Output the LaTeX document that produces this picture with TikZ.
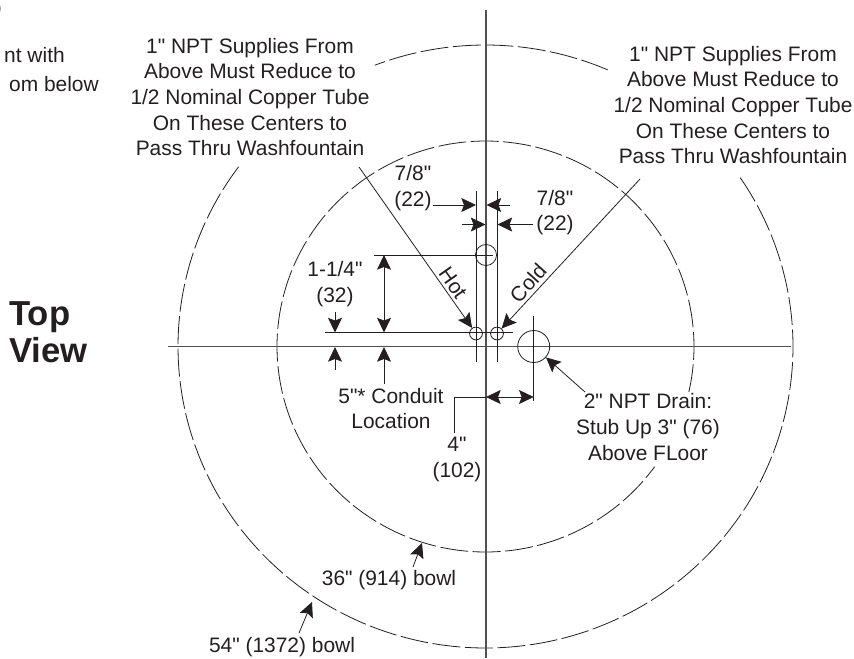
\documentclass[tikz,border=0pt]{standalone}
\usepackage{fontspec}
\setmainfont{Liberation Sans}[Ligatures=TeXOff]
\usetikzlibrary{arrows.meta}
\definecolor{ink}{HTML}{231F20}
\definecolor{axisgray}{HTML}{505050}
\newcommand{\ovalarc}[6]{\draw[bowl] plot[domain=#5:#6,samples=240] ({#1+#2*cos(\x)},{#3-#4*sin(\x)});}
\tikzset{
  x=0.75pt,y=-0.75pt,
  lbl/.style={text=ink,align=center,inner sep=0pt,font=\fontsize{15.7}{19.2}\selectfont},
  bold/.style={text=ink,anchor=base west,inner sep=0pt,font=\fontsize{26}{28}\selectfont\bfseries},
  thinl/.style={draw=ink,line width=0.6pt},
  axisl/.style={draw=axisgray,line width=0.95pt},
  bowl/.style={draw=ink,line width=0.6pt,dash pattern=on 21pt off 3.4pt},
  tip/.style={thinl,-{Stealth[length=11pt,width=10.5pt,inset=2pt]}},
  tiptwo/.style={thinl,{Stealth[length=11pt,width=10.5pt,inset=2pt]}-{Stealth[length=11pt,width=10.5pt,inset=2pt]}},
  pipe/.style={circle,draw=ink,line width=0.6pt,inner sep=0pt},
}
\begin{document}
\begin{tikzpicture}
\useasboundingbox (0,0) rectangle (854,658);
% bowls
\ovalarc{485.5}{307.5}{346.5}{301.5}{66.6}{111.1}
\ovalarc{485.5}{307.5}{346.5}{301.5}{143.4}{394.6}
\ovalarc{485.5}{208.5}{346.5}{205.5}{-12.8}{324.2}
% axes
\coordinate (vt) at (486,10); \coordinate (vb) at (486,658);
\coordinate (hl) at (168,346.5); \coordinate (hr) at (791,346.5);
\draw[axisl] (vt) -- (vb);
\draw[axisl] (hl) -- (hr);
% pipes
\node[pipe,minimum size=15.8pt] (top) at (486,255) {};
\node[pipe,minimum size=9.6pt] (hot) at (476,333.5) {};
\node[pipe,minimum size=9.6pt] (cold) at (497,333.5) {};
\node[pipe,minimum size=24pt] (drain) at (533.7,346.5) {};
% extension lines
\coordinate (e1t) at (476,191); \coordinate (e1b) at (476,362);
\coordinate (e2t) at (497,191); \coordinate (e2b) at (497,362);
\draw[thinl] (e1t) -- (e1b);
\draw[thinl] (e2t) -- (e2b);
\coordinate (tl) at (374,255); \coordinate (tr) at (493,255);
\draw[thinl] (tl) -- (tr);
\coordinate (sl) at (325,332.5); \coordinate (sr) at (513,332.5);
\draw[thinl] (sl) -- (sr);
\coordinate (dt) at (533.7,316); \coordinate (db) at (533.7,401);
\draw[thinl] (dt) -- (db);
% dimension arrows
\coordinate (a1) at (433,205); \coordinate (a1e) at (476,205);
\coordinate (a2) at (510,205); \coordinate (a2e) at (486.5,205);
\coordinate (a3) at (462,224.5); \coordinate (a3e) at (485.5,224.5);
\coordinate (a4) at (533,224.5); \coordinate (a4e) at (497.5,224.5);
\draw[tip] (a1) -- (a1e);
\draw[tip] (a2) -- (a2e);
\draw[tip] (a3) -- (a3e);
\draw[tip] (a4) -- (a4e);
\coordinate (v1) at (384,255); \coordinate (v2) at (384,332.5);
\draw[tiptwo] (v1) -- (v2);
\coordinate (c1) at (384,384); \coordinate (c1e) at (384,347);
\draw[tip] (c1) -- (c1e);
\coordinate (s1) at (335,312); \coordinate (s1e) at (335,332.5);
\coordinate (s2) at (335,370); \coordinate (s2e) at (335,347);
\draw[tip] (s1) -- (s1e);
\draw[tip] (s2) -- (s2e);
\coordinate (f1) at (454,433); \coordinate (f2) at (454,397);
\coordinate (f3) at (486,397); \coordinate (f4) at (533.7,397);
\draw[thinl] (f1) -- (f2) -- (f3);
\draw[tiptwo] (f3) -- (f4);
% leaders
\coordinate (hs) at (359,167); \coordinate (cs) at (640,179);
\coordinate (ds) at (585,392);
\draw[tip] (hs) -- (hot);
\draw[tip] (cs) -- (cold);
\draw[tip] (ds) -- (drain);
\coordinate (b36) at (413,567); \coordinate (b36e) at (422,543);
\coordinate (b54) at (299,633); \coordinate (b54e) at (312,602);
\draw[tip] (b36) -- (b36e);
\draw[tip] (b54) -- (b54e);
% labels
\node[lbl] (ltxt) at (250,97) {1" NPT Supplies From\\Above Must Reduce to\\1/2 Nominal Copper Tube\\On These Centers to\\Pass Thru Washfountain};
\node[lbl] (rtxt) at (733,105) {1" NPT Supplies From\\Above Must Reduce to\\1/2 Nominal Copper Tube\\On These Centers to\\Pass Thru Washfountain};
\node[lbl] (d1) at (413,188) {7/8"\\(22)};
\node[lbl] (d2) at (555,212.5) {7/8"\\(22)};
\node[lbl] (d3) at (335,284) {1-1/4"\\(32)};
\node[lbl] (cond) at (391,408.5) {5"* Conduit\\Location};
\node[lbl] (four) at (457,459.5) {4"\\(102)};
\node[lbl] (dr) at (648,427) {2" NPT Drain:\\Stub Up 3" (76)\\Above FLoor};
\node[lbl] (l36) at (389,580) {36" (914) bowl};
\node[lbl] (l54) at (282,647) {54" (1372) bowl};
\node[lbl,rotate=-55] (lh) at (453,283) {Hot};
\node[lbl,rotate=48] (lc) at (528,283) {Cold};
\node[bold] (vtop) at (9,325) {Top};
\node[bold] (vview) at (9,362) {View};
\node[lbl,anchor=base east] (frag1) at (65,62) {nt with};
\node[lbl,anchor=base east] (frag2) at (99,91) {om below};
\node[lbl,anchor=base east] (frag3) at (2,14) {)};
\end{tikzpicture}
\end{document}
